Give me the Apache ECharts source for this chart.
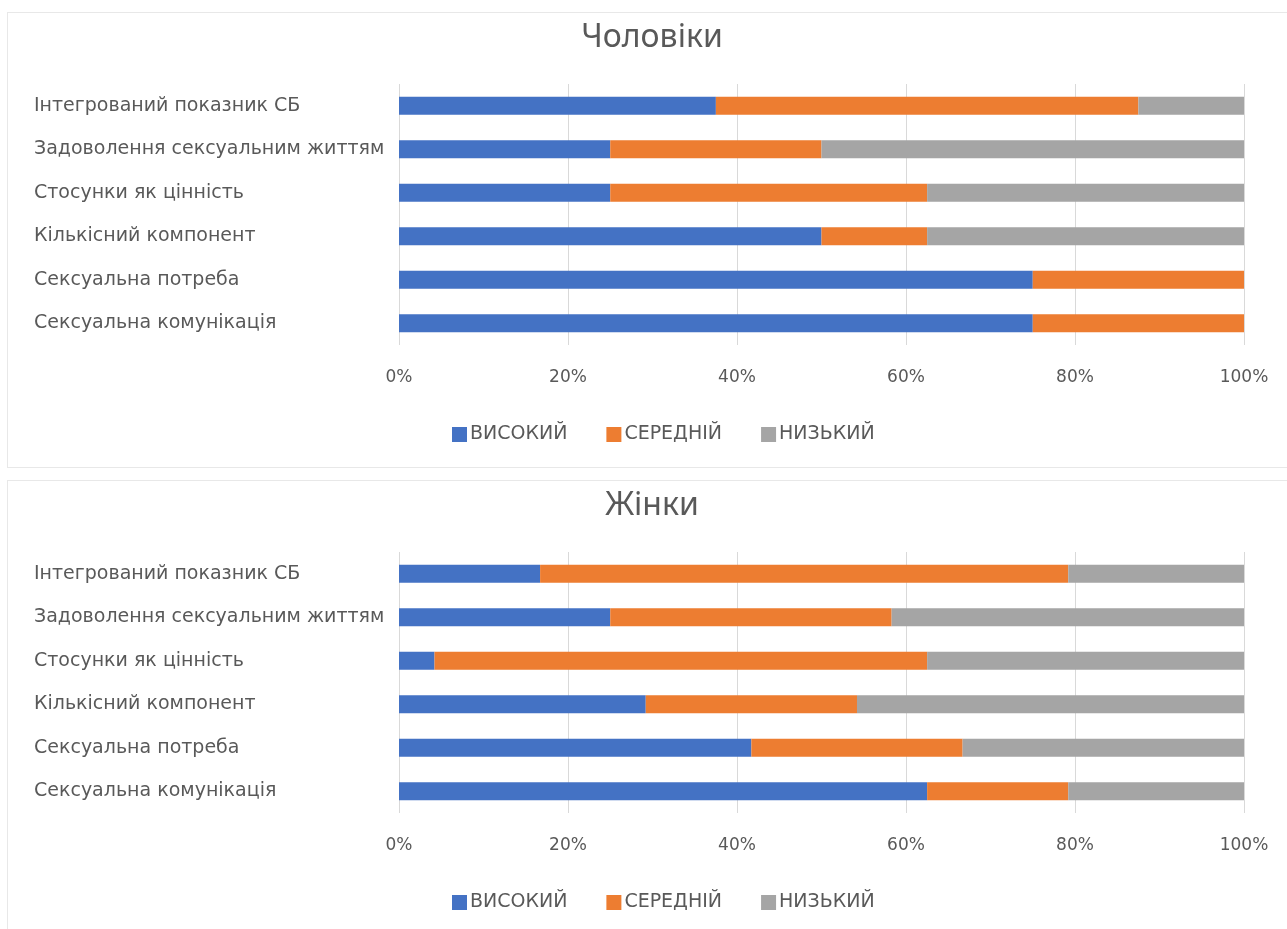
<!DOCTYPE html>
<html>
<head>
<meta charset="utf-8">
<script src="https://cdn.jsdelivr.net/npm/echarts@6/dist/echarts.min.js"></script>
<style>
    body { margin: 0; background: #fff; }
    .box {
        position: absolute;
        left: 7px;
        width: 1290px;
        border: 1px solid #e8e8e8;
        border-right: none;
        box-sizing: border-box;
    }
    #men { top: 12px; height: 456px; }
    #women { top: 480px; height: 460px; }
</style>
</head>
<body>
<div id="men" class="box"></div>
<div id="women" class="box"></div>
<script>
    // категорії зверху вниз
    const categories = [
        'Інтегрований показник СБ',
        'Задоволення сексуальним життям',
        'Стосунки як цінність',
        'Кількісний компонент',
        'Сексуальна потреба',
        'Сексуальна комунікація'
    ];
    const seriesNames = ['ВИСОКИЙ', 'СЕРЕДНІЙ', 'НИЗЬКИЙ'];
    const xTicks = [0, 20, 40, 60, 80, 100];

    // Чоловіки, %
    const menHigh = [37.5, 25, 25, 50, 75, 75];
    const menMid = [50, 25, 37.5, 12.5, 25, 25];
    const menLow = [12.5, 50, 37.5, 37.5, 0, 0];

    // Жінки, %
    const womenHigh = [16.7, 25, 4.2, 29.2, 41.7, 62.5];
    const womenMid = [62.5, 33.3, 58.3, 25, 25, 16.7];
    const womenLow = [20.8, 41.7, 37.5, 45.8, 33.3, 20.8];

    const colors = ['#4472c4', '#ed7d31', '#a5a5a5'];
    const textColor = '#595959';
    const font = 'DejaVu Sans';

    function buildOption(title, high, mid, low) {
        return {
            animation: false,
            color: colors,
            title: {
                text: title,
                left: 639,
                top: 4,
                textAlign: 'center',
                textStyle: {
                    fontFamily: 'Noto Sans',
                    fontSize: 32,
                    fontWeight: 'normal',
                    color: textColor
                }
            },
            legend: {
                left: 439,
                top: 407,
                icon: 'rect',
                itemWidth: 15,
                itemHeight: 15,
                itemGap: 39,
                data: seriesNames,
                textStyle: {
                    fontFamily: font,
                    fontSize: 19,
                    color: textColor,
                    padding: [0, 0, 0, -2]
                }
            },
            grid: {
                left: 391,
                width: 845,
                top: 71,
                height: 261
            },
            xAxis: {
                type: 'value',
                min: xTicks[0],
                max: xTicks[xTicks.length - 1],
                interval: xTicks[1] - xTicks[0],
                axisLine: { show: false },
                axisTick: { show: false },
                axisLabel: {
                    formatter: '{value}%',
                    margin: 24,
                    fontFamily: font,
                    fontSize: 17,
                    color: textColor
                },
                splitLine: {
                    lineStyle: { color: '#d9d9d9', width: 1 }
                }
            },
            yAxis: {
                type: 'category',
                inverse: true,
                data: categories,
                axisLine: { show: false },
                axisTick: { show: false },
                axisLabel: {
                    align: 'left',
                    margin: 365,
                    fontFamily: font,
                    fontSize: 19,
                    color: textColor
                }
            },
            series: [
                { name: seriesNames[0], type: 'bar', stack: 'all', barWidth: 18, data: high },
                { name: seriesNames[1], type: 'bar', stack: 'all', barWidth: 18, data: mid },
                { name: seriesNames[2], type: 'bar', stack: 'all', barWidth: 18, data: low }
            ]
        };
    }

    echarts.init(document.getElementById('men')).setOption(buildOption('Чоловіки', menHigh, menMid, menLow));
    echarts.init(document.getElementById('women')).setOption(buildOption('Жінки', womenHigh, womenMid, womenLow));
</script>
</body>
</html>
